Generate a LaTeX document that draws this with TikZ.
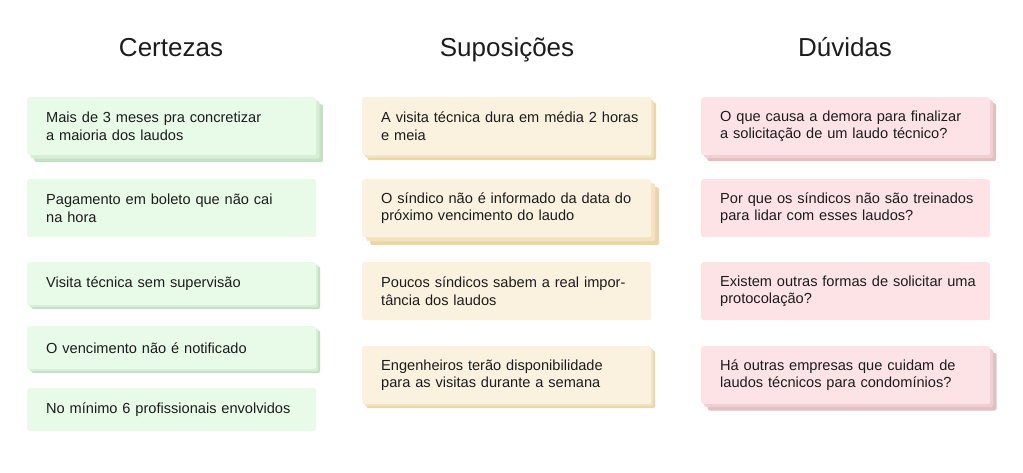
\documentclass[tikz,border=0pt]{standalone}
\usepackage{fontspec}
\setmainfont{Liberation Sans}
\usetikzlibrary{shadows}
\definecolor{ink}{HTML}{1C1C1C}
\definecolor{gfill}{HTML}{E8FBE8}
\definecolor{gshA}{HTML}{D6EDD6}
\definecolor{gshB}{HTML}{C6E0C6}
\definecolor{bfill}{HTML}{FAF1DF}
\definecolor{bshA}{HTML}{F2E4C0}
\definecolor{bshB}{HTML}{E9D7A8}
\definecolor{pfill}{HTML}{FDE3E5}
\definecolor{pshA}{HTML}{EFCFD1}
\definecolor{pshB}{HTML}{E2C0C2}
\tikzset{
  x=1pt, y=1pt,
  note/.style={rectangle, rounded corners=2.5pt, draw=none, minimum width=289pt,
    text width=270pt, inner xsep=9.5pt, inner ysep=0pt, align=left, anchor=north west,
    text=ink, font=\fontsize{14.6}{17.5}\selectfont,
    execute at begin node={\leftskip=9.5pt\relax}},
  two/.style={minimum height=58pt},
  one/.style={minimum height=43pt},
  stack/.style n args={4}{copy shadow={shadow xshift=#2, shadow yshift=-#2, fill=#4, draw=none},
    copy shadow={shadow xshift=#1, shadow yshift=-#1, fill=#3, draw=none}},
  gnote/.style={note, fill=gfill},
  bnote/.style={note, fill=bfill},
  pnote/.style={note, fill=pfill},
  title/.style={anchor=base, text=ink, font=\fontsize{26}{31}\selectfont},
}
\begin{document}
\begin{tikzpicture}
\useasboundingbox (0,0) rectangle (1023,-473);
% titles
\node[title] (tc) at (171,-57) {Certezas};
\node[title] (ts) at (507,-57) {Suposições};
\node[title] (td) at (845,-57) {Dúvidas};
% Certezas
\node[gnote, two, stack={3.5pt}{7pt}{gshA}{gshB}] (c1) at (27,-97) {Mais de 3 meses pra concretizar\\a maioria dos laudos};
\node[gnote, two] (c2) at (27,-179) {Pagamento em boleto que não cai\\na hora};
\node[gnote, one, stack={2pt}{4pt}{gshA}{gshB}] (c3) at (27,-262) {Visita técnica sem supervisão};
\node[gnote, one, stack={2pt}{4pt}{gshA}{gshB}] (c4) at (27,-326) {O vencimento não é notificado};
\node[gnote, one] (c5) at (27,-388) {No mínimo 6 profissionais envolvidos};
% Suposicoes
\node[bnote, two, stack={2.5pt}{5pt}{bshA}{bshB}] (s1) at (362,-97) {A visita técnica dura em média 2 horas\\e meia};
\node[bnote, two, stack={4pt}{8pt}{bshA}{bshB}] (s2) at (362,-179) {O síndico não é informado da data do\\próximo vencimento do laudo};
\node[bnote, two] (s3) at (362,-262) {Poucos síndicos sabem a real impor-\\tância dos laudos};
\node[bnote, two, stack={2pt}{4pt}{bshA}{bshB}] (s4) at (362,-346) {Engenheiros terão disponibilidade\\para as visitas durante a semana};
% Duvidas
\node[pnote, two, stack={3pt}{6pt}{pshA}{pshB}] (d1) at (701,-97) {O que causa a demora para finalizar\\a solicitação de um laudo técnico?};
\node[pnote, two] (d2) at (701,-179) {Por que os síndicos não são treinados\\para lidar com esses laudos?};
\node[pnote, two] (d3) at (701,-262) {Existem outras formas de solicitar uma\\protocolação?};
\node[pnote, two, stack={3pt}{6.5pt}{pshA}{pshB}] (d4) at (701,-346) {Há outras empresas que cuidam de\\laudos técnicos para condomínios?};
\end{tikzpicture}
\end{document}
